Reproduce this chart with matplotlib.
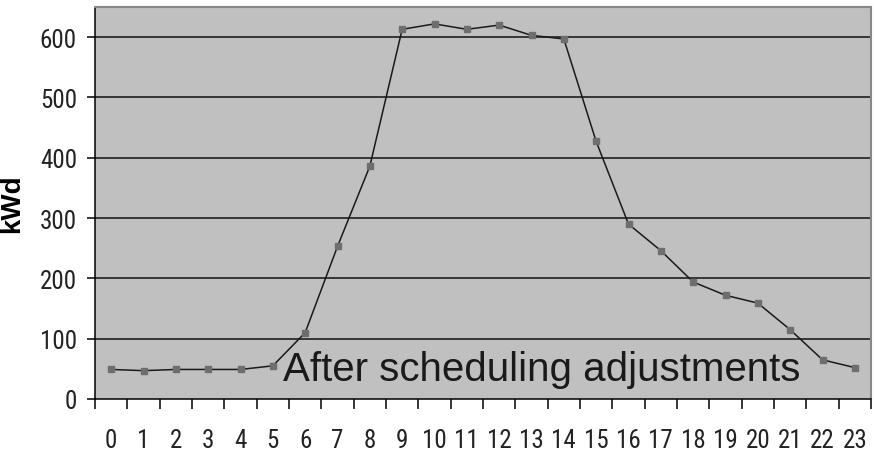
import matplotlib.pyplot as plt
from matplotlib import font_manager

# 数据:每小时负荷 (kWd)
hours = list(range(24))
hour_labels = [str(h) for h in hours]
kwd = [49, 47, 49, 49, 49, 55, 110, 253, 386, 613, 622, 613,
       620, 603, 597, 427, 290, 246, 194, 172, 159, 115, 65, 52]
y_ticks = [0, 100, 200, 300, 400, 500, 600]
note = 'After scheduling adjustments'

# 找一个窄字体 (类似 Arial Narrow)
installed = {f.name for f in font_manager.fontManager.ttflist}
narrow = 'Liberation Sans'
for name in ['Liberation Sans Narrow', 'Arimo Narrow', 'Roboto Condensed',
             'Archivo Narrow', 'Open Sans Condensed', 'Asap Condensed']:
    if name in installed:
        narrow = name
        break

fig = plt.figure(figsize=(8.74, 4.52), dpi=100)
ax = fig.add_axes([95 / 874, 52 / 452, 776 / 874, 392 / 452])
ax.set_facecolor('#c0c0c0')

# 网格线
for v in y_ticks[1:]:
    ax.axhline(v, color='#111111', lw=1.1, zorder=1)

ax.plot(hours, kwd, color='#1a1a1a', lw=1.1, marker='s', markersize=5,
        markerfacecolor='#6e6e6e', markeredgecolor='#6e6e6e', zorder=3)

ax.set_xlim(-0.5, 23.5)
ax.set_ylim(0, 650)

# 坐标轴样式
ax.spines['left'].set_color('black')
ax.spines['bottom'].set_color('black')
ax.spines['left'].set_linewidth(1.1)
ax.spines['bottom'].set_linewidth(1.1)
ax.spines['top'].set_color('#888888')
ax.spines['right'].set_color('#888888')
ax.spines['top'].set_linewidth(1.5)
ax.spines['right'].set_linewidth(1.5)

ax.set_xticks(hours)
ax.set_xticklabels(hour_labels, fontsize=18, family=narrow, color='#222222')
ax.set_xticks([h - 0.5 for h in hours] + [23.5], minor=True)
ax.tick_params(axis='x', which='major', length=0, pad=21)
ax.tick_params(axis='x', which='minor', length=7, width=1.1, color='black', direction='out')

ax.set_yticks(y_ticks)
ax.set_yticklabels([str(v) for v in y_ticks], fontsize=18, family=narrow, color='#222222')
ax.tick_params(axis='y', length=6, width=1.1, color='black', pad=7)

ax.set_ylabel('kWd', fontsize=20, fontweight='bold', family='Liberation Sans')
ax.yaxis.set_label_coords(-0.090, 0.5)

ax.text(5.31, 32, note, fontsize=29, family='Liberation Sans', color='#1a1a1a',
        ha='left', va='baseline', zorder=2)

fig.savefig('out.png', dpi=100)
